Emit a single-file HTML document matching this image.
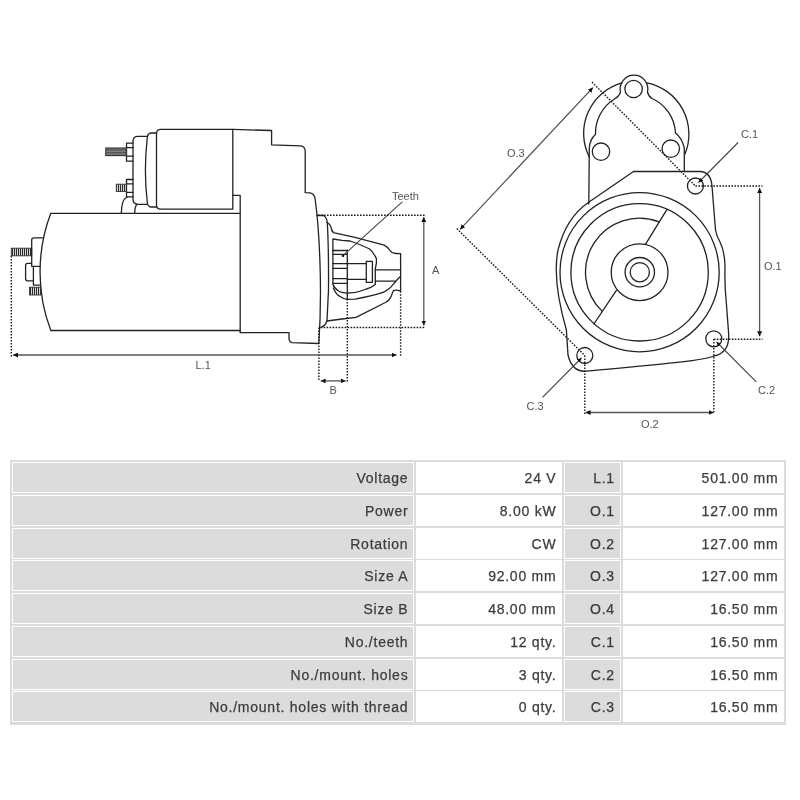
<!DOCTYPE html>
<html><head><meta charset="utf-8">
<style>
html,body{margin:0;padding:0;background:#fff;}
body{width:800px;height:800px;position:relative;overflow:hidden;font-family:"Liberation Sans",sans-serif;-webkit-font-smoothing:antialiased;}
svg{position:absolute;left:0;top:0;}
.tb{position:absolute;left:10px;top:460px;width:776px;height:265px;background:#dcdcdc;}
.c{position:absolute;box-sizing:border-box;border:1px solid #fff;text-align:right;color:#3c3c3c;font-size:14px;letter-spacing:0.75px;line-height:29px;padding-right:4.6px;padding-top:1px;white-space:nowrap;-webkit-text-stroke:0.25px #3c3c3c;}
.g{background:#dcdcdc;}
.w{background:#fff;}
</style></head><body>
<svg width="800" height="460" viewBox="0 0 800 460" style="will-change:transform">
<defs>
<pattern id="thr" width="2" height="10" patternUnits="userSpaceOnUse">
<rect x="0" y="0" width="2" height="10" fill="#e8e8e8"/>
<rect x="0" y="0" width="1.1" height="10" fill="#2a2a2a"/>
</pattern>
<pattern id="thh" width="10" height="1.6" patternUnits="userSpaceOnUse">
<rect x="0" y="0" width="10" height="1.6" fill="#8a8a8a"/>
<rect x="0" y="0" width="10" height="0.7" fill="#444"/>
</pattern>
<marker id="ar" viewBox="0 0 10 10" refX="10" refY="5" markerWidth="5" markerHeight="5" orient="auto-start-reverse" markerUnits="userSpaceOnUse">
<path d="M0 0 L10 5 L0 10 z" fill="#111"/>
</marker>
<marker id="ar2" viewBox="0 0 10 10" refX="10" refY="5" markerWidth="4.5" markerHeight="4.5" orient="auto" markerUnits="userSpaceOnUse">
<path d="M0 0 L10 5 L0 10 z" fill="#111"/>
</marker>
</defs>
<g fill="none" stroke="#222" stroke-width="1.3" stroke-linejoin="round" stroke-linecap="round">
<!-- motor body -->
<path d="M240.2 213.3 L50.8 213.3 A165 165 0 0 0 50.8 330.5 L240.2 330.5"/>
<!-- solenoid -->
<path d="M156.5 133.5 Q156.5 129.4 161 129.4 L232.8 129.4 L232.8 209.2 L161 209.2 Q156.5 209.2 156.5 205 Z"/>
<path d="M156.5 133 L151 133 Q147.5 133 147.2 138.5 Q143.6 170 147.2 201.5 Q147.5 207 151 207 L156.5 207"/>
<path d="M147 136.3 L138 136.3 Q133 136.3 133 141.3 L133 199 Q133 204.3 138 204.3 L147 204.3"/>
<!-- nuts -->
<path d="M126.5 143.2 L133 143.2 M126.5 143.2 L126.5 161.2 L133 161.2 M126.5 147.7 L133 147.7 M126.5 156.2 L133 156.2"/>
<path d="M126.5 179.5 L133 179.5 M126.5 179.5 L126.5 196.8 L133 196.8 M126.5 183.8 L133 183.8 M126.5 192.3 L133 192.3"/>
<!-- small arcs under solenoid -->
<path d="M121.3 213.4 Q121.3 200 127 197"/>
<path d="M134.6 213.4 Q135 206 137 204.3"/>
<!-- housing -->
<path d="M232.8 129.4 L271.6 130.5 L271.6 144.8 L300.5 145.8 Q305 146.2 305.2 151 L305.2 192.6 L310 192.8 Q314 193.5 315 198 C319.5 230 322.5 290 318.8 343.5 L292 342.6 Q289 342 289 338 L289 332.6 L240.2 332.6"/>
<path d="M232.8 195.3 L240.2 195.3 L240.2 332.6"/>
<!-- flange -->
<path d="M317 215.5 L323.5 215.5 Q326.5 217 327.3 222.5 Q328.8 250 328.5 290 L327 320.5 Q326 325.5 321 327.3"/>
<!-- nose outer -->
<path d="M327 222.5 Q330.5 224 331.5 229 Q332.2 232.3 334.5 232.9 L355 237.3 L384.2 245.1 Q387.5 246.8 390 250.5 Q392 253.4 396 253.5 L400.6 253.6 L400.6 291.2 Q396.5 289.6 393.5 290.6 Q392.5 292 391.5 295.5 Q390 300 385.4 302.5 L356 317.3 L342 319 L327 321"/>
<!-- pinion inner -->
<path d="M332.9 239 L342 240.4 L350 241 Q358 243.5 369.6 249 Q373 251.5 376.4 258.6 L376.4 263.1 L375.3 268.8 L375.3 284.5 Q371 288 366.3 289 Q360 291.6 355 292.4 L347.5 293.2 Q341 292.6 338.5 291 Q334 288 332.9 284.3 Z"/>
<path d="M333.3 288 Q336 294 338.5 295.6 Q343 299.1 347.5 299.3 L355 299.1 Q372 296 383.1 292.4 Q389.5 289 392.1 285.6 L398.9 277.8 L400.6 276.6"/>
<!-- teeth -->
<path d="M332.9 250.5 L347.3 250.5 M332.9 254.3 L347.3 254.3 M332.9 263.6 L347.3 263.6 M332.9 268.4 L347.3 268.4 M332.9 278.6 L347.3 278.6 M332.9 283.4 L347.3 283.4 M347.3 250 L347.3 299"/>
<!-- shaft -->
<path d="M347.3 263.7 L366.3 263.7 M347.3 279.4 L366.3 279.4 M375.3 269.9 L400.6 269.9 M375.3 281.1 L395.5 281.1"/>
<rect x="366.3" y="261.4" width="6.1" height="20.9"/>
<!-- teeth leader -->
<path d="M343 255.6 L402 202.2" stroke="#444" stroke-width="1.1"/>
<!-- top plate right view -->
<path d="M588.8 204 L589.3 148 Q590 139 595.5 134.5 A40 40 0 0 1 614.5 99 Q619 96.5 620.5 92 A13.82 13.82 0 1 1 647.5 92 Q648.5 96.5 652 98.5 A40 40 0 0 1 675.5 133 Q682 138 684.3 148 L684.3 171"/>
<path d="M589.3 157 A52.4 52.4 0 0 1 622 82.8"/>
<path d="M646.8 82.8 A52.4 52.4 0 0 1 685 154"/>
<circle cx="633.6" cy="89" r="8.7"/>
<circle cx="601" cy="151.7" r="8.7"/>
<circle cx="670.8" cy="148.7" r="8.7"/>
<!-- main plate outline -->
<path d="M633.5 171.5 L700 171.5 Q711 172 712 186 L715.5 230 Q716.5 236 720 242 Q725 252 725 268 Q724.5 285 726.3 302.5 L728.6 333 C729.8 349 722 354.5 713.8 356 C702 361.5 640 366 586 371.2 Q572 372 568 355 L566.4 330 Q552 280 558 250 Q566 218 588.3 202.5 Z"/>
<circle cx="639.6" cy="272.2" r="79.6"/>
<circle cx="639.6" cy="272.3" r="68.7"/>
<path d="M659 221.8 A54 54 0 0 0 602.1 311.1"/>
<path d="M667 209.3 L645.6 244.1 M616.4 290.3 L593.9 324"/>
<circle cx="639.6" cy="272.2" r="28.4"/>
<circle cx="639.8" cy="272.2" r="14.7"/>
<circle cx="639.8" cy="272.2" r="9.6"/>
<circle cx="695.4" cy="186" r="8"/>
<circle cx="713.8" cy="338.8" r="8"/>
<circle cx="584.8" cy="355.5" r="8"/>
</g>
<!-- threads -->
<rect x="105.8" y="148" width="20.5" height="7.6" fill="url(#thh)" stroke="#333" stroke-width="1.1"/>
<rect x="116.3" y="184.2" width="10" height="7.3" fill="url(#thr)" stroke="#333" stroke-width="0.9"/>
<rect x="11.3" y="248.2" width="20.4" height="7.6" fill="url(#thr)" stroke="#333" stroke-width="0.9"/>
<rect x="29.5" y="287.2" width="11.4" height="7.8" fill="url(#thr)" stroke="#333" stroke-width="0.9"/>
<g fill="none" stroke="#222" stroke-width="1.3" stroke-linejoin="round">
<!-- rear brackets -->
<path d="M42.9 237.9 L34 237.9 Q31.7 237.9 31.7 240 L31.7 266.3 L40.6 266.3"/>
<path d="M33.4 266.3 L33.4 285.1 L40 285.1"/>
<path d="M31.7 263.3 L27.6 263.3 Q25.6 263.3 25.6 265.3 L25.6 278.8 Q25.6 280.8 27.6 280.8 L33.4 280.8"/>
</g>
<!-- dotted lines -->
<g fill="none" stroke="#1a1a1a" stroke-width="1.4" stroke-dasharray="1.6 1.4">
<path d="M11.3 256 L11.3 357"/>
<path d="M318 215.3 L424.7 215.3"/>
<path d="M320.6 327.5 L424.7 327.5"/>
<path d="M318.9 327.5 L318.9 381.4"/>
<path d="M347.3 299 L347.3 381.4"/>
<path d="M400.6 291.2 L400.6 356"/>
<path d="M592 82 L695.4 186"/>
<path d="M456.8 228.6 L584.8 355.5"/>
<path d="M695.4 186 L762.5 186"/>
<path d="M713.8 339.2 L762.5 339.2"/>
<path d="M713.8 339 L713.8 414"/>
<path d="M584.8 355.5 L584.8 414"/>
</g>
<!-- dimension arrows -->
<g fill="none" stroke="#555" stroke-width="1.3">
<path d="M13 355 L396.5 355" marker-start="url(#ar)" marker-end="url(#ar)"/>
<path d="M320.6 380.9 L345.6 380.9" marker-start="url(#ar)" marker-end="url(#ar)"/>
<path d="M423.8 217 L423.8 325.5" marker-start="url(#ar)" marker-end="url(#ar)"/>
<path d="M460.1 229.4 L592.9 87.6" marker-start="url(#ar)" marker-end="url(#ar)"/>
<path d="M759.6 188 L759.6 336.3" marker-start="url(#ar)" marker-end="url(#ar)"/>
<path d="M585.6 412.5 L713.5 412.5" marker-start="url(#ar)" marker-end="url(#ar)"/>
</g>
<g fill="none" stroke="#444" stroke-width="1.1">
<path d="M738.1 142.5 L698.5 182.5" marker-end="url(#ar2)"/>
<path d="M756.3 381.9 L716.5 342" marker-end="url(#ar2)"/>
<path d="M542.5 397.4 L581.5 358" marker-end="url(#ar2)"/>
</g>
<circle cx="343" cy="255.8" r="1.3" fill="#111"/>
<g font-family="Liberation Sans" font-size="11" fill="#555">
<text x="392" y="199.5">Teeth</text>
<text x="432" y="273.5">A</text>
<text x="195.5" y="369.3">L.1</text>
<text x="329.5" y="393.6">B</text>
<text x="507" y="156.6">O.3</text>
<text x="741" y="138">C.1</text>
<text x="764" y="270">O.1</text>
<text x="758" y="393.8">C.2</text>
<text x="641" y="427.6">O.2</text>
<text x="526.5" y="410.3">C.3</text>
</g>
</svg>

<div style="position:absolute;left:0;top:0;width:800px;height:800px;will-change:transform">
<div class="tb"></div>
<div class="c g" style="left:12px;top:462.0px;width:402px;height:31px">Voltage</div>
<div class="c w" style="left:416px;top:462.0px;width:146px;height:31px">24 V</div>
<div class="c g" style="left:564px;top:462.0px;width:56.5px;height:31px">L.1</div>
<div class="c w" style="left:622.5px;top:462.0px;width:161.5px;height:31px">501.00 mm</div>
<div class="c g" style="left:12px;top:494.75px;width:402px;height:31px">Power</div>
<div class="c w" style="left:416px;top:494.75px;width:146px;height:31px">8.00 kW</div>
<div class="c g" style="left:564px;top:494.75px;width:56.5px;height:31px">O.1</div>
<div class="c w" style="left:622.5px;top:494.75px;width:161.5px;height:31px">127.00 mm</div>
<div class="c g" style="left:12px;top:527.5px;width:402px;height:31px">Rotation</div>
<div class="c w" style="left:416px;top:527.5px;width:146px;height:31px">CW</div>
<div class="c g" style="left:564px;top:527.5px;width:56.5px;height:31px">O.2</div>
<div class="c w" style="left:622.5px;top:527.5px;width:161.5px;height:31px">127.00 mm</div>
<div class="c g" style="left:12px;top:560.25px;width:402px;height:31px">Size A</div>
<div class="c w" style="left:416px;top:560.25px;width:146px;height:31px">92.00 mm</div>
<div class="c g" style="left:564px;top:560.25px;width:56.5px;height:31px">O.3</div>
<div class="c w" style="left:622.5px;top:560.25px;width:161.5px;height:31px">127.00 mm</div>
<div class="c g" style="left:12px;top:593.0px;width:402px;height:31px">Size B</div>
<div class="c w" style="left:416px;top:593.0px;width:146px;height:31px">48.00 mm</div>
<div class="c g" style="left:564px;top:593.0px;width:56.5px;height:31px">O.4</div>
<div class="c w" style="left:622.5px;top:593.0px;width:161.5px;height:31px">16.50 mm</div>
<div class="c g" style="left:12px;top:625.75px;width:402px;height:31px">No./teeth</div>
<div class="c w" style="left:416px;top:625.75px;width:146px;height:31px">12 qty.</div>
<div class="c g" style="left:564px;top:625.75px;width:56.5px;height:31px">C.1</div>
<div class="c w" style="left:622.5px;top:625.75px;width:161.5px;height:31px">16.50 mm</div>
<div class="c g" style="left:12px;top:658.5px;width:402px;height:31px">No./mount. holes</div>
<div class="c w" style="left:416px;top:658.5px;width:146px;height:31px">3 qty.</div>
<div class="c g" style="left:564px;top:658.5px;width:56.5px;height:31px">C.2</div>
<div class="c w" style="left:622.5px;top:658.5px;width:161.5px;height:31px">16.50 mm</div>
<div class="c g" style="left:12px;top:691.25px;width:402px;height:31px">No./mount. holes with thread</div>
<div class="c w" style="left:416px;top:691.25px;width:146px;height:31px">0 qty.</div>
<div class="c g" style="left:564px;top:691.25px;width:56.5px;height:31px">C.3</div>
<div class="c w" style="left:622.5px;top:691.25px;width:161.5px;height:31px">16.50 mm</div>
</div>
</body></html>
